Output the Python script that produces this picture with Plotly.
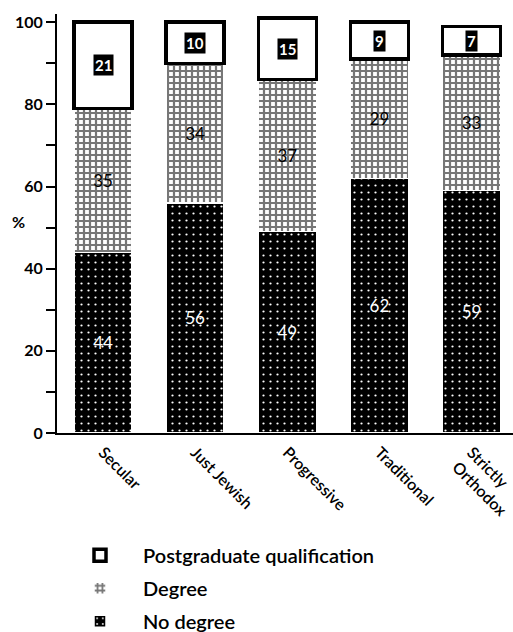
import plotly.graph_objects as go

categories = ["Secular", "Just Jewish", "Progressive", "Traditional", "Strictly<br>Orthodox"]
no_degree = [44, 56, 49, 62, 59]
degree = [35, 34, 37, 29, 33]
postgrad = [21, 10, 15, 9, 7]
y_ticks = [0, 20, 40, 60, 80, 100]

FONT = "Lato"

fig = go.Figure()
fig.add_trace(go.Bar(
    x=categories, y=no_degree, name="No degree", legendrank=3, legendgroup="g3",
    marker=dict(color="black", line=dict(color="white", width=1.5),
                pattern=dict(shape=".", fgcolor="white", bgcolor="black", size=7, solidity=0.08, fillmode="replace")),
    text=no_degree, textposition="inside", insidetextanchor="middle",
    textfont=dict(color="white", size=17, family=FONT), textangle=0,
))
fig.add_trace(go.Bar(
    x=categories, y=degree, name="Degree", legendrank=2, legendgroup="g2",
    marker=dict(color="white", line=dict(color="white", width=1.5),
                pattern=dict(shape="+", fgcolor="#777777", bgcolor="white", size=6, solidity=0.6, fillmode="replace")),
    text=degree, textposition="inside", insidetextanchor="middle",
    textfont=dict(color="black", size=17, family=FONT), textangle=0,
))
fig.add_trace(go.Bar(
    x=categories, y=postgrad, name="Postgraduate qualification", legendrank=1, legendgroup="g1",
    marker=dict(color="white", line=dict(color="black", width=3.5)),
))

# value labels for postgraduate segments (white on black box)
for c, a, b, p in zip(categories, no_degree, degree, postgrad):
    fig.add_annotation(x=c, y=a + b + p / 2, text=f"<b>{p}</b>", showarrow=False,
                       font=dict(color="white", size=15, family=FONT),
                       bgcolor="black", borderpad=1)

fig.add_annotation(xref="paper", yref="paper", x=-0.085, y=0.504, xanchor="center",
                   text="<b>%</b>", showarrow=False,
                   font=dict(size=16, family=FONT, color="black"))

fig.update_layout(
    width=513, height=632,
    margin=dict(l=57, r=0, t=14, b=199, autoexpand=False),
    barmode="stack", bargap=0.37,
    plot_bgcolor="white", paper_bgcolor="white",
    font=dict(family=FONT, color="black"),
    showlegend=True,
    legend=dict(x=0.0, y=-0.245, xanchor="left", yanchor="top",
                traceorder="grouped", itemwidth=76, tracegroupgap=4,
                font=dict(size=20, family=FONT, color="black", weight=600),
                bgcolor="rgba(0,0,0,0)"),
    xaxis=dict(range=[-0.5, 4.45], showline=True, linecolor="black", linewidth=2,
               ticks="", tickangle=45, ticklabelstandoff=2, automargin=False,
               tickfont=dict(size=16, family=FONT, color="black", weight=600),
               showgrid=False, zeroline=False),
    yaxis=dict(range=[0, 102], tickvals=y_ticks, showline=True, linecolor="black", linewidth=2,
               ticks="outside", ticklen=9, tickwidth=1.5, tickcolor="black", automargin=False,
               minor=dict(dtick=10, ticks="outside", ticklen=9, tickwidth=1.5, tickcolor="black"),
               tickfont=dict(size=16, family=FONT, color="black", weight="bold"),
               showgrid=False, zeroline=False),
)

fig.write_html("out.html")
